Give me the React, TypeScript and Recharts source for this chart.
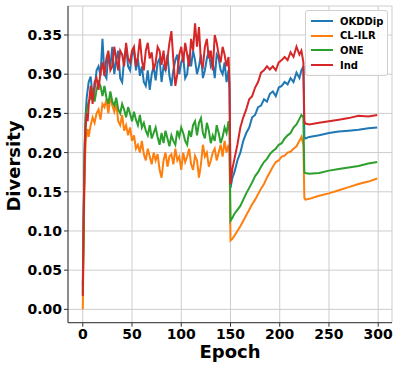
import { LineChart, Line, XAxis, YAxis, CartesianGrid, Label } from "recharts"

// ── Data ──────────────────────────────────────────────────────
const epochs = [
  0, 1, 2, 3, 4, 5, 6,
  8, 10, 12, 14, 16, 18, 20, 22, 24, 26, 28, 30, 32, 34, 36, 38, 40, 42, 44, 46, 48,
  50, 52, 54, 56, 58, 60, 62, 64, 66, 68, 70, 72, 74, 76, 78, 80, 82, 84, 86, 88, 90, 92, 94, 96, 98,
  100, 102, 104, 106, 108, 110, 112, 114, 116, 118, 120, 122, 124, 126, 128, 130, 132, 134, 136, 138, 140, 142, 144, 146, 148,
  149, 150, 152, 154, 157, 160, 163, 166, 169, 172, 175, 178, 181, 184, 187, 190, 193, 196, 199, 202, 205, 208, 211, 214, 217, 220, 222, 224,
  225, 226, 230, 240, 250, 260, 270, 280, 290, 299,
]

const okddip = [
  0.03, 0.13, 0.21, 0.25, 0.27, 0.28, 0.29,
  0.297, 0.272, 0.28, 0.305, 0.31, 0.298, 0.345, 0.3, 0.295, 0.325, 0.31, 0.335, 0.3, 0.318, 0.33, 0.295, 0.29, 0.32, 0.335, 0.31, 0.305,
  0.325, 0.33, 0.305, 0.32, 0.298, 0.31, 0.29, 0.285, 0.305, 0.28, 0.3, 0.31, 0.292, 0.315, 0.32, 0.29, 0.31, 0.305, 0.325, 0.298, 0.285, 0.305, 0.318, 0.325, 0.3,
  0.315, 0.322, 0.295, 0.3, 0.325, 0.31, 0.33, 0.318, 0.3, 0.31, 0.325, 0.295, 0.305, 0.32, 0.33, 0.31, 0.315, 0.295, 0.325, 0.32, 0.305, 0.3, 0.315, 0.29, 0.305,
  0.28, 0.155, 0.168, 0.175, 0.19, 0.2, 0.215, 0.225, 0.232, 0.245, 0.248, 0.258, 0.26, 0.268, 0.265, 0.275, 0.278, 0.272, 0.283, 0.285, 0.29, 0.287, 0.295, 0.29, 0.302, 0.295, 0.305, 0.31,
  0.22, 0.218, 0.22, 0.222, 0.225, 0.227, 0.228, 0.229, 0.231, 0.232,
]

const clIlr = [
  0.0, 0.1, 0.18, 0.215, 0.225, 0.23, 0.22,
  0.235, 0.245, 0.238, 0.25, 0.255, 0.242, 0.262, 0.258, 0.268, 0.25, 0.272, 0.26, 0.252, 0.262, 0.24, 0.235, 0.248, 0.228, 0.235, 0.222, 0.232,
  0.215, 0.222, 0.205, 0.21, 0.2, 0.215, 0.198, 0.19, 0.205, 0.195, 0.185, 0.2, 0.19, 0.198, 0.178, 0.168, 0.19, 0.2, 0.182, 0.195, 0.198, 0.185, 0.205, 0.19, 0.195,
  0.178, 0.2, 0.188, 0.195, 0.205, 0.185, 0.178, 0.196, 0.19, 0.168, 0.185, 0.21, 0.195, 0.2, 0.182, 0.19, 0.2, 0.205, 0.19, 0.2, 0.21, 0.195, 0.215, 0.2, 0.21,
  0.2, 0.088, 0.09, 0.094, 0.1, 0.106, 0.113, 0.12, 0.127, 0.134, 0.14, 0.147, 0.154, 0.16, 0.168, 0.175, 0.182, 0.188, 0.19, 0.195, 0.196, 0.2, 0.201, 0.205, 0.208, 0.215, 0.22, 0.21,
  0.142, 0.14, 0.141, 0.145, 0.148, 0.152, 0.156, 0.16, 0.163, 0.167,
]

const one = [
  0.02, 0.13, 0.21, 0.245, 0.255, 0.26, 0.265,
  0.27, 0.282, 0.265, 0.28, 0.29, 0.285, 0.272, 0.285, 0.27, 0.262, 0.278, 0.265, 0.26, 0.27, 0.255, 0.25, 0.262, 0.255, 0.245, 0.258, 0.25,
  0.24, 0.252, 0.242, 0.235, 0.248, 0.232, 0.238, 0.228, 0.222, 0.235, 0.218, 0.225, 0.232, 0.22, 0.21, 0.225, 0.212, 0.228, 0.218, 0.208, 0.222, 0.215, 0.21, 0.228, 0.22,
  0.232, 0.225, 0.215, 0.21, 0.228, 0.22, 0.235, 0.24, 0.222, 0.238, 0.244, 0.225, 0.218, 0.238, 0.228, 0.212, 0.222, 0.215, 0.235, 0.225, 0.212, 0.22, 0.232, 0.225, 0.24,
  0.225, 0.113, 0.117, 0.122, 0.127, 0.132, 0.14, 0.148, 0.155, 0.162, 0.17, 0.175, 0.182, 0.188, 0.192, 0.198, 0.202, 0.205, 0.21, 0.212, 0.218, 0.222, 0.225, 0.232, 0.236, 0.243, 0.248, 0.245,
  0.175, 0.174, 0.173, 0.174, 0.177, 0.179, 0.181, 0.183, 0.186, 0.188,
]

const ind = [
  0.017, 0.12, 0.2, 0.235, 0.25, 0.24, 0.26,
  0.285, 0.262, 0.29, 0.295, 0.28, 0.302, 0.315, 0.298, 0.32, 0.33, 0.305, 0.31, 0.335, 0.32, 0.305, 0.33, 0.325, 0.31, 0.34, 0.32, 0.315,
  0.33, 0.335, 0.31, 0.322, 0.345, 0.318, 0.305, 0.33, 0.34, 0.32, 0.328, 0.305, 0.315, 0.335, 0.33, 0.312, 0.33, 0.305, 0.32, 0.34, 0.355, 0.318, 0.285, 0.3, 0.325,
  0.335, 0.315, 0.34, 0.325, 0.31, 0.345, 0.33, 0.365, 0.335, 0.36, 0.315, 0.31, 0.335, 0.345, 0.32, 0.33, 0.305, 0.35, 0.34, 0.325, 0.315, 0.335, 0.325, 0.31, 0.322,
  0.29, 0.16, 0.18, 0.192, 0.21, 0.232, 0.245, 0.255, 0.268, 0.272, 0.283, 0.29, 0.302, 0.305, 0.31, 0.306, 0.31, 0.305, 0.315, 0.318, 0.322, 0.318, 0.328, 0.322, 0.335, 0.325, 0.33, 0.315,
  0.24, 0.237, 0.236, 0.238, 0.24, 0.242, 0.244, 0.247, 0.246, 0.248,
]

const xTicks = [0, 50, 100, 150, 200, 250, 300]
const yTicks = [0, 0.05, 0.1, 0.15, 0.2, 0.25, 0.3, 0.35]

const SERIES = [
  { key: "OKDDip", color: "#1f77b4" },
  { key: "CL-ILR", color: "#ff7f0e" },
  { key: "ONE", color: "#2ca02c" },
  { key: "Ind", color: "#d62728" },
]

const data = epochs.map((e, i) => ({
  epoch: e,
  OKDDip: okddip[i],
  "CL-ILR": clIlr[i],
  ONE: one[i],
  Ind: ind[i],
}))

const FONT = "'DejaVu Sans', sans-serif"
const AXIS = "#333"
const tickStyle = { fontSize: 14, fontWeight: "bold", fill: "#000", fontFamily: FONT }

// ── Legend box ────────────────────────────────────────────────
function LegendBox() {
  return (
    <div
      style={{
        position: "absolute",
        left: 305,
        top: 10,
        width: 83,
        boxSizing: "border-box",
        padding: "3px 0 3px 5px",
        background: "rgba(255,255,255,0.85)",
        border: "1px solid #d0d0d0",
        borderRadius: 3,
        fontFamily: FONT,
        fontWeight: "bold",
        fontSize: 10,
        color: "#000",
      }}
    >
      {SERIES.map((s) => (
        <div key={s.key} style={{ display: "flex", alignItems: "center", height: 14.6 }}>
          <span style={{ display: "inline-block", width: 22, height: 2, background: s.color, marginRight: 7 }} />
          {s.key}
        </div>
      ))}
    </div>
  )
}

export default function App() {
  return (
    <div style={{ position: "absolute", left: 0, top: 0, width: 399, height: 368, background: "#fff" }}>
      <LineChart width={399} height={368} data={data} margin={{ top: 6, right: 7, bottom: 0, left: 0 }}>
        <CartesianGrid stroke="#cdcdcd" strokeWidth={1} />
        <XAxis
          dataKey="epoch"
          type="number"
          domain={[-15, 314]}
          ticks={xTicks}
          allowDataOverflow
          height={45.3}
          tick={tickStyle}
          tickSize={4}
          tickMargin={2}
          stroke={AXIS}
          tickLine={{ stroke: AXIS }}
        >
          <Label
            content={() => (
              <text x={230} y={358} textAnchor="middle" fontSize={18} fontWeight="bold" fontFamily={FONT} fill="#000">
                Epoch
              </text>
            )}
          />
        </XAxis>
        <XAxis xAxisId="top" orientation="top" type="number" domain={[-15, 314]} height={0} tick={false} tickLine={false} stroke={AXIS} />
        <YAxis
          type="number"
          domain={[-0.017, 0.387]}
          ticks={yTicks}
          allowDataOverflow
          width={68}
          tick={tickStyle}
          tickSize={4}
          tickMargin={2}
          tickFormatter={(v: number) => v.toFixed(2)}
          stroke={AXIS}
          tickLine={{ stroke: AXIS }}
        >
          <Label
            content={() => (
              <text
                x={20}
                y={166}
                transform="rotate(-90, 20, 166)"
                textAnchor="middle"
                fontSize={18}
                fontWeight="bold"
                fontFamily={FONT}
                fill="#000"
              >
                Diversity
              </text>
            )}
          />
        </YAxis>
        <YAxis yAxisId="right" orientation="right" type="number" domain={[-0.017, 0.387]} width={0} tick={false} tickLine={false} stroke={AXIS} />
        {SERIES.map((s) => (
          <Line
            key={s.key}
            type="linear"
            dataKey={s.key}
            stroke={s.color}
            strokeWidth={2}
            dot={false}
            isAnimationActive={false}
          />
        ))}
      </LineChart>
      <LegendBox />
    </div>
  )
}
